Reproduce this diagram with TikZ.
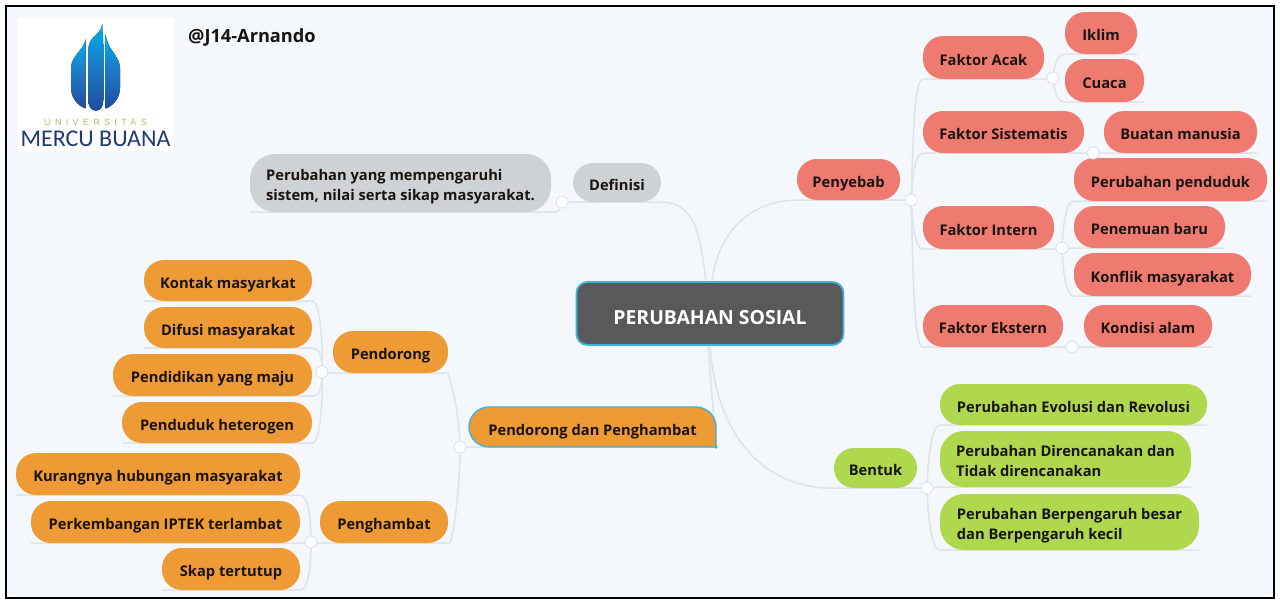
\documentclass[tikz,border=0pt]{standalone}
\usepackage{fontspec}
\setmainfont{Open Sans}[BoldFont={Open Sans Bold}]
\newfontfamily\unifont[LetterSpace=48]{Liberation Sans}
\newfontfamily\mercufont{Carlito}
\usetikzlibrary{backgrounds}
\definecolor{pagebg}{HTML}{F4F7FB}
\definecolor{linkc}{HTML}{DFE4E8}
\definecolor{salmon}{HTML}{EF7B70}
\definecolor{orangeb}{HTML}{EE9A35}
\definecolor{greenb}{HTML}{AFD84F}
\definecolor{greyb}{HTML}{CFD2D5}
\definecolor{darkc}{HTML}{58595B}
\definecolor{cyanb}{HTML}{3AB5DE}
\definecolor{inkc}{HTML}{1A1410}
\definecolor{flameA}{HTML}{00AEEF}
\definecolor{flameB}{HTML}{1E78C4}
\definecolor{flameC}{HTML}{1F4E9F}
\definecolor{uniC}{HTML}{A3C46C}
\definecolor{mercuC}{HTML}{1F3A73}
\tikzset{
  pill/.style={rectangle, rounded corners=20pt, inner sep=0pt, text=inkc,
    font=\fontsize{14.7}{20}\selectfont\bfseries},
  red/.style={pill, fill=salmon},
  org/.style={pill, fill=orangeb},
  grn/.style={pill, fill=greenb},
  gry/.style={pill, fill=greyb},
  dot/.style={circle, fill=white, draw=linkc, line width=1pt, minimum size=12pt, inner sep=0pt},
  link/.style={draw=linkc, line width=1.5pt},
  flame/.style={top color=flameA, bottom color=flameC, middle color=flameB},
}
\newcommand{\bx}[7]{\node[#1, minimum width={(#5-#3)*1pt}, minimum height={(#6-#4)*1pt}] (#2) at ({(#3+#5)/2},{(#4+#6)/2}) {\raisebox{-7.5pt}[0pt][0pt]{\begin{tabular}{@{}l@{}}#7\end{tabular}}};}
\newcommand{\lnkR}[4]{\draw[link] (#1.center) .. controls +(#3) and +(#4) .. (#2.south west) -- (#2.south east);}
\newcommand{\lnkL}[4]{\draw[link] (#1.center) .. controls +(#3) and +(#4) .. (#2.south east) -- (#2.south west);}
\begin{document}
\begin{tikzpicture}[x=1pt,y=-1pt]
\useasboundingbox (0,0) rectangle (1280,605);
% logo
\fill[white] (17,18) rectangle (174,151);
\fill[flame] (102.3,24.3) .. controls (100,36) and (88.5,36) .. (88.3,50) -- (88.3,100) .. controls (88.3,106) and (91,110.7) .. (96,110.7) .. controls (101,110.7) and (103.3,106) .. (103.3,100) -- (103.3,45) .. controls (103.3,38) and (102,32) .. (102.3,24.3) -- cycle;
\fill[flame] (85.7,39) .. controls (84,50) and (71,56) .. (71,68) -- (71,88) .. controls (71,98) and (78,106) .. (85.7,108.5) -- cycle;
\fill[flame] (105.7,34) .. controls (107,50) and (120,56) .. (120,68) -- (120,88) .. controls (120,98) and (113,106) .. (105.7,108.5) -- cycle;
\node[inner sep=0pt, text=uniC, font=\unifont\fontsize{9}{9}\selectfont] (univ) at (95.5,122.5) {UNIVERSITAS};
\node[inner sep=0pt, text=mercuC, font=\mercufont\fontsize{24}{26}\selectfont] (mercu) at (95.5,139) {MERCU BUANA};
\node[anchor=west, inner sep=0pt, text=inkc, font=\fontsize{18.2}{22}\selectfont\bfseries] (author) at (188,37) {@J14-Arnando};
% centre
\node[draw=cyanb, line width=1.8pt, fill=darkc, rounded corners=11pt, minimum width=267pt, minimum height=63pt, inner sep=0pt, text=white, font=\fontsize{19.4}{22}\selectfont\bfseries] (root) at (710,313.5) {\raisebox{-10.5pt}[0pt][0pt]{PERUBAHAN SOSIAL}};
% right
\bx{red}{penyebab}{797}{159}{900}{200}{Penyebab}
\bx{red}{acak}{923}{36}{1044}{79}{Faktor Acak}
\bx{red}{iklim}{1065}{12}{1137}{54}{Iklim}
\bx{red}{cuaca}{1065}{59}{1144}{102}{Cuaca}
\bx{red}{sistematis}{923}{111}{1084}{153}{Faktor Sistematis}
\bx{red}{buatan}{1104}{111}{1257}{153}{Buatan manusia}
\bx{red}{intern}{923}{206}{1054}{249}{Faktor Intern}
\bx{red}{penduduk}{1074}{158}{1267}{201}{Perubahan penduduk}
\bx{red}{penemuan}{1074}{206}{1225}{248}{Penemuan baru}
\bx{red}{konflik}{1074}{253}{1251}{296}{Konflik masyarakat}
\bx{red}{ekstern}{923}{305}{1063}{347}{Faktor Ekstern}
\bx{red}{kondisi}{1084}{305}{1212}{347}{Kondisi alam}
\bx{grn}{bentuk}{834}{448}{917}{488}{Bentuk}
\bx{grn}{evolusi}{940}{384}{1207}{425}{Perubahan Evolusi dan Revolusi}
\bx{grn,rounded corners=24pt}{rencana}{940}{431}{1191}{487}{Perubahan Direncanakan dan\\Tidak direncanakan}
\bx{grn,rounded corners=24pt}{pengaruh}{940}{494}{1199}{550}{Perubahan Berpengaruh besar\\dan Berpengaruh kecil}
% upper left
\bx{gry}{definisi}{573}{163}{661}{202}{Definisi}
\bx{gry,rounded corners=25pt}{arti}{250}{154}{551}{212}{Perubahan yang mempengaruhi\\sistem, nilai serta sikap masyarakat.}
% lower left
\draw[draw=cyanb, fill=orangeb, line width=1.4pt] (716,447) -- (489,447) .. controls (478,447) and (469,438) .. (469,427) .. controls (469,416) and (478,407) .. (489,407) -- (696,407) .. controls (707,407) and (716,416) .. (716,427) -- cycle;
\fill[cyanb] (716,447) circle (1.8);
\node[inner sep=0pt, minimum width=247pt, minimum height=40pt, text=inkc, font=\fontsize{14.7}{20}\selectfont\bfseries] (pdp) at (592.5,427) {\raisebox{-8pt}[0pt][0pt]{Pendorong dan Penghambat}};
\bx{org}{pendorong}{333}{331}{448}{373}{Pendorong}
\bx{org}{penghambat}{320}{501}{448}{543}{Penghambat}
\bx{org}{kontak}{144}{260}{312}{301}{Kontak masyarkat}
\bx{org}{difusi}{144}{307}{312}{348}{Difusi masyarakat}
\bx{org}{didik}{113}{354}{312}{396}{Pendidikan yang maju}
\bx{org}{hetero}{122}{402}{312}{443}{Penduduk heterogen}
\bx{org}{kurang}{16}{453}{300}{495}{Kurangnya hubungan masyarakat}
\bx{org}{iptek}{31}{501}{300}{543}{Perkembangan IPTEK terlambat}
\bx{org}{skap}{162}{548}{300}{590}{Skap tertutup}
% junction dots
\node[dot] (jp) at (911,200) {};
\node[dot] (ja) at (1053,78) {};
\node[dot] (js) at (1093,153) {};
\node[dot] (ji) at (1062,248) {};
\node[dot] (je) at (1072,347) {};
\node[dot] (jb) at (927,488) {};
\node[dot] (jd) at (562,202) {};
\node[dot] (jq) at (460,447) {};
\node[dot] (jr) at (322,372) {};
\node[dot] (jh) at (311,542) {};
\begin{scope}[on background layer]
\draw[fill=pagebg, draw=black, line width=2pt] (6,6) rectangle (1274,597.5);
% root branches
\draw[link] ([xshift=2pt]root.north) .. controls +(6,-50) and +(-45,0) .. (penyebab.south west) -- (penyebab.south east) -- (jp.center);
\draw[link] ([xshift=-4pt]root.north) .. controls +(-6,-45) and +(35,0) .. (definisi.south east) -- (definisi.south west) -- (jd.center);
\draw[link] (root.south) .. controls +(6,85) and +(-75,0) .. (bentuk.south west) -- (bentuk.south east) -- (jb.center);
\draw[link] ([xshift=-2pt]root.south) -- (pdp.south east) -- (jq.center);
% penyebab children
\lnkR{jp}{acak}{2,-40}{-10,0}\draw[link] (acak.south east) -- (ja.center);
\lnkR{jp}{sistematis}{1,-20}{-8,0}\draw[link] (sistematis.south east) -- (js.center);
\lnkR{jp}{intern}{1,20}{-8,0}\draw[link] (intern.south east) -- (ji.center);
\lnkR{jp}{ekstern}{2,50}{-10,0}\draw[link] (ekstern.south east) -- (je.center);
% leaves
\lnkR{ja}{iklim}{1,-12}{-8,0}
\lnkR{ja}{cuaca}{1,12}{-8,0}
\draw[link] (js.center) -- (buatan.south west) -- (buatan.south east);
\lnkR{ji}{penduduk}{1,-22}{-8,0}
\draw[link] (ji.center) -- (penemuan.south west) -- (penemuan.south east);
\lnkR{ji}{konflik}{1,22}{-8,0}
\draw[link] (je.center) -- (kondisi.south west) -- (kondisi.south east);
\lnkR{jb}{evolusi}{1,-30}{-8,0}
\draw[link] (jb.center) -- (rencana.south west) -- (rencana.south east);
\lnkR{jb}{pengaruh}{1,30}{-8,0}
\draw[link] (jd.center) .. controls +(-2,8) and +(8,0) .. (arti.south east) -- (arti.south west);
% lower-left branches
\draw[link] (jq.center) .. controls +(-1,-40) and +(2,8) .. (pendorong.south east) -- (pendorong.south west) -- (jr.center);
\draw[link] (jq.center) .. controls +(0,50) and +(3,8) .. (penghambat.south east) -- (penghambat.south west) -- (jh.center);
\lnkL{jr}{kontak}{1,-30}{8,0}
\lnkL{jr}{difusi}{0,-14}{8,0}
\lnkL{jr}{didik}{0,14}{8,0}
\lnkL{jr}{hetero}{1,30}{8,0}
\lnkL{jh}{kurang}{0,-25}{8,0}
\draw[link] (jh.center) -- (iptek.south east) -- (iptek.south west);
\lnkL{jh}{skap}{0,25}{8,0}
\end{scope}
\end{tikzpicture}
\end{document}
